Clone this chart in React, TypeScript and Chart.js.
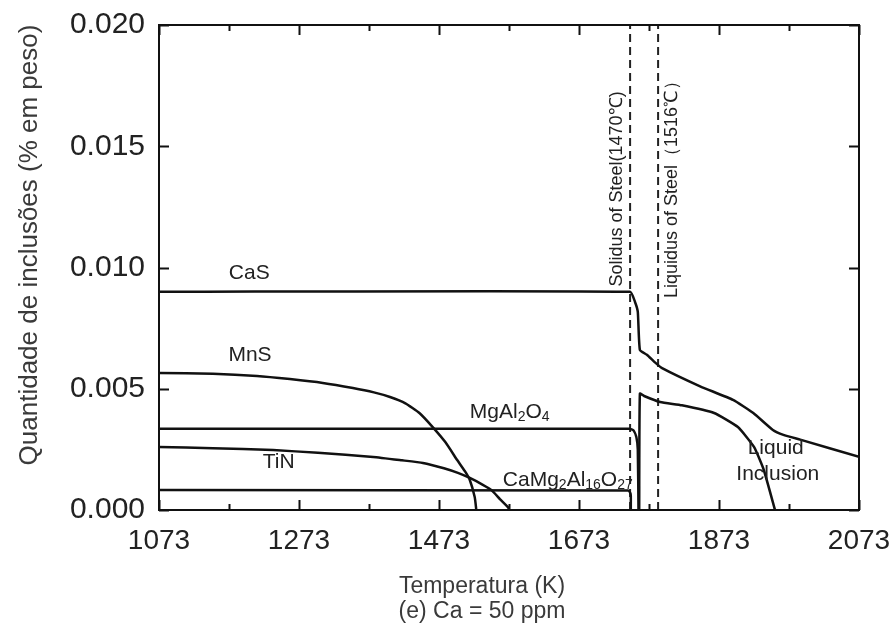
import React, { useEffect, useRef } from "react";
import { Chart, registerables } from "chart.js";

Chart.register(...registerables);

// ---- data ----
const xTickValues = [1073, 1173, 1273, 1373, 1473, 1573, 1673, 1773, 1873, 1973, 2073];
const xTickLabels = ["1073", "", "1273", "", "1473", "", "1673", "", "1873", "", "2073"];
const yTickValues = [0, 0.005, 0.01, 0.015, 0.02];
const yTickLabels = ["0.000", "0.005", "0.010", "0.015", "0.020"];

const casT = [1073, 1746, 1753, 1757, 1760, 1770, 1781, 1791, 1846, 1893, 1922, 1950, 1965, 1989, 2073];
const casV = [0.009, 0.009, 0.00858, 0.00817, 0.0066, 0.0064, 0.0061, 0.00586, 0.0051, 0.00454, 0.004, 0.0033, 0.0031, 0.0029, 0.00219];

const mnsT = [1073, 1150, 1213, 1260, 1307, 1350, 1380, 1403, 1425, 1445, 1464, 1482, 1499, 1510, 1517, 1524, 1526, 1526];
const mnsV = [0.00565, 0.00562, 0.00553, 0.0054, 0.00524, 0.00503, 0.00485, 0.00466, 0.0044, 0.004, 0.00342, 0.0028, 0.00206, 0.0016, 0.00124, 0.00054, 0.00008, 0];

const tinT = [1073, 1150, 1236, 1300, 1379, 1420, 1450, 1480, 1500, 1517, 1535, 1548, 1560, 1572, 1573];
const tinV = [0.0026, 0.00255, 0.00247, 0.00236, 0.00219, 0.00205, 0.00194, 0.00172, 0.00153, 0.00132, 0.00105, 0.00082, 0.00045, 0.0001, 0];

const mgalT = [1073, 1745, 1751, 1755, 1757, 1758];
const mgalV = [0.00335, 0.00335, 0.00328, 0.003, 0.0025, 0];

const camgT = [1073, 1743, 1746, 1747, 1747];
const camgV = [0.00082, 0.0008, 0.00072, 0.0006, 0];

const liqT = [1759, 1760, 1766, 1789, 1820, 1866, 1900, 1923, 1937, 1953];
const liqV = [0, 0.0048, 0.0047, 0.00445, 0.00432, 0.004, 0.00342, 0.0026, 0.00165, 0];

const solidusT = 1746;
const liquidusT = 1786;

const labels = [
  { parts: [{ t: "CaS" }], x: 1202, y: 0.00977 },
  { parts: [{ t: "MnS" }], x: 1203, y: 0.00639 },
  { parts: [{ t: "TiN" }], x: 1244, y: 0.00198 },
  { parts: [{ t: "MgAl" }, { t: "2", sub: true }, { t: "O" }, { t: "4", sub: true }], x: 1574, y: 0.00404 },
  { parts: [{ t: "CaMg" }, { t: "2", sub: true }, { t: "Al" }, { t: "16", sub: true }, { t: "O" }, { t: "27", sub: true }], x: 1657, y: 0.00124 },
  { parts: [{ t: "Liquid" }], x: 1954, y: 0.00256 },
  { parts: [{ t: "Inclusion" }], x: 1957, y: 0.00148 },
];

const verticalLabels = [
  { text: "Solidus of Steel(1470℃)", x: 1727, y: 0.01324 },
  { text: "Liquidus of Steel（1516℃）", x: 1806, y: 0.0134 },
];

const FONT = "'Liberation Sans', Arial, sans-serif";

function pts(xs: number[], ys: number[]) {
  return xs.map((x, i) => ({ x, y: ys[i] }));
}

const decorPlugin = {
  id: "decor",
  afterDatasetsDraw(chart: any) {
    const ctx = chart.ctx;
    const xs = chart.scales.x;
    const ys = chart.scales.y;
    const a = chart.chartArea;
    ctx.save();
    // frame
    ctx.strokeStyle = "#111";
    ctx.lineWidth = 2;
    ctx.strokeRect(a.left, a.top, a.right - a.left, a.bottom - a.top);
    // x ticks (inward, top & bottom)
    xTickValues.forEach((v, i) => {
      const px = Math.round(xs.getPixelForValue(v)) + 0.5;
      const len = xTickLabels[i] ? 10 : 6;
      ctx.beginPath();
      ctx.moveTo(px, a.bottom);
      ctx.lineTo(px, a.bottom - len);
      ctx.moveTo(px, a.top);
      ctx.lineTo(px, a.top + len);
      ctx.stroke();
    });
    yTickValues.forEach((v) => {
      const py = Math.round(ys.getPixelForValue(v)) + 0.5;
      ctx.beginPath();
      ctx.moveTo(a.left, py);
      ctx.lineTo(a.left + 10, py);
      ctx.moveTo(a.right, py);
      ctx.lineTo(a.right - 10, py);
      ctx.stroke();
    });
    // labels
    ctx.fillStyle = "#222";
    ctx.textBaseline = "middle";
    const fs = 21;
    labels.forEach((lb) => {
      const segs = lb.parts.map((p: any) => {
        const f = p.sub ? `${Math.round(fs * 0.68)}px ${FONT}` : `${fs}px ${FONT}`;
        ctx.font = f;
        return { ...p, f, w: ctx.measureText(p.t).width };
      });
      const total = segs.reduce((s: number, g: any) => s + g.w, 0);
      let cx = xs.getPixelForValue(lb.x) - total / 2;
      const cy = ys.getPixelForValue(lb.y);
      ctx.textAlign = "left";
      segs.forEach((g: any) => {
        ctx.font = g.f;
        ctx.fillText(g.t, cx, g.sub ? cy + 5 : cy);
        cx += g.w;
      });
    });
    // vertical labels
    ctx.font = `18px ${FONT}`;
    ctx.textAlign = "center";
    verticalLabels.forEach((lb) => {
      ctx.save();
      ctx.translate(xs.getPixelForValue(lb.x), ys.getPixelForValue(lb.y));
      ctx.rotate(-Math.PI / 2);
      ctx.fillText(lb.text, 0, 0);
      ctx.restore();
    });
    ctx.restore();
  },
  afterDraw(chart: any) {
    const ctx = chart.ctx;
    ctx.save();
    ctx.fillStyle = "#3a3a3a";
    ctx.textAlign = "center";
    ctx.textBaseline = "middle";
    // y title
    ctx.font = `26px ${FONT}`;
    ctx.save();
    ctx.translate(30, 245);
    ctx.rotate(-Math.PI / 2);
    ctx.fillText("Quantidade de inclusões (% em peso)", 0, 0);
    ctx.restore();
    // x title
    ctx.font = `23px ${FONT}`;
    ctx.fillText("Temperatura (K)", 482, 587);
    ctx.fillText("(e) Ca = 50 ppm", 482, 612);
    ctx.restore();
  },
};

const zeroPad = (s: any) => {
  s.paddingLeft = 0;
  s.paddingRight = 0;
  s.paddingTop = 0;
  s.paddingBottom = 0;
};

export default function App() {
  const ref = useRef<HTMLCanvasElement>(null);
  useEffect(() => {
    if (!ref.current) return;
    const line = (data: any[], extra: any = {}) => ({
      data,
      borderColor: "#111",
      borderWidth: 2.5,
      pointRadius: 0,
      showLine: true,
      fill: false,
      tension: 0.15,
      ...extra,
    });
    const chart = new Chart(ref.current, {
      type: "scatter",
      data: {
        datasets: [
          line(pts(casT, casV)),
          line(pts(mnsT, mnsV)),
          line(pts(tinT, tinV)),
          line(pts(mgalT, mgalV)),
          line(pts(camgT, camgV)),
          line(pts(liqT, liqV)),
          line(pts([solidusT, solidusT], [0, 0.02]), { borderWidth: 2, borderDash: [8, 5], borderColor: "#222", tension: 0 }),
          line(pts([liquidusT, liquidusT], [0, 0.02]), { borderWidth: 2, borderDash: [8, 5], borderColor: "#222", tension: 0 }),
        ],
      },
      options: {
        responsive: false,
        animation: false,
        devicePixelRatio: 1,
        layout: { padding: { top: 25, right: 34, left: 0, bottom: 0 } },
        plugins: { legend: { display: false }, tooltip: { enabled: false } },
        scales: {
          x: {
            type: "linear",
            min: 1073,
            max: 2073,
            grid: { display: false, drawTicks: false },
            border: { display: false },
            afterBuildTicks: (s: any) => {
              s.ticks = xTickValues.map((v) => ({ value: v }));
            },
            afterFit: (s: any) => {
              s.height = 128;
              zeroPad(s);
            },
            ticks: {
              autoSkip: false,
              maxRotation: 0,
              padding: 14,
              color: "#222",
              font: { size: 28, family: FONT },
              callback: (_v: any, i: number) => xTickLabels[i],
            },
          },
          y: {
            type: "linear",
            min: 0,
            max: 0.02,
            grid: { display: false, drawTicks: false },
            border: { display: false },
            afterBuildTicks: (s: any) => {
              s.ticks = yTickValues.map((v) => ({ value: v }));
            },
            afterFit: (s: any) => {
              s.width = 159;
              zeroPad(s);
            },
            ticks: {
              padding: 14,
              color: "#222",
              font: { size: 30, family: FONT },
              callback: (_v: any, i: number) => yTickLabels[i],
            },
          },
        },
      },
      plugins: [decorPlugin],
    });
    return () => chart.destroy();
  }, []);
  return (
    <div style={{ position: "absolute", left: 0, top: 0, width: 893, height: 638, background: "#fff" }}>
      <canvas ref={ref} width={893} height={638} />
    </div>
  );
}
